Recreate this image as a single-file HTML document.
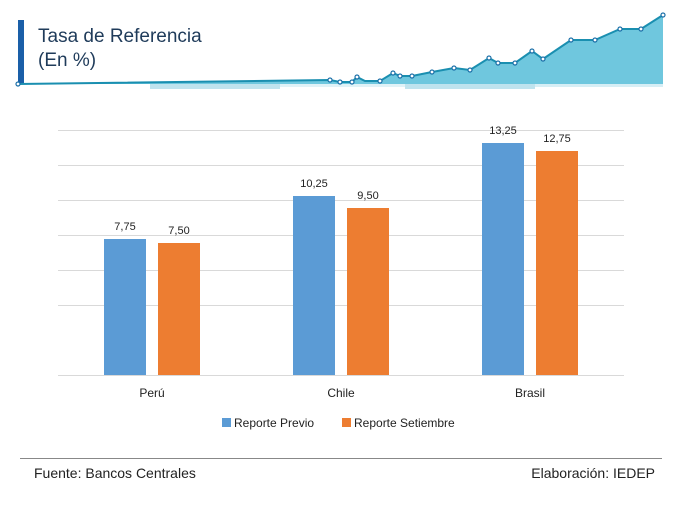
<!DOCTYPE html><html><head><style>body{margin:0;width:680px;height:502px;background:#fff;overflow:hidden;font-family:"Liberation Sans",sans-serif}</style></head><body>
<svg width="680" height="502" xmlns="http://www.w3.org/2000/svg" font-family="Liberation Sans, sans-serif">
<rect x="18" y="20" width="6" height="64" fill="#1a5fa8"/>
<text x="38" y="42" font-size="19" fill="#1f3b5a">Tasa de Referencia</text>
<text x="38" y="66" font-size="19" fill="#1f3b5a">(En %)</text>
<rect x="150" y="84" width="130" height="5" fill="#bfe3ee"/><rect x="405" y="84" width="130" height="5" fill="#bfe3ee"/><rect x="280" y="84" width="125" height="3" fill="#e0f2f7"/><rect x="535" y="84" width="128" height="3" fill="#d6eef5"/>
<polygon points="18,84 330,80 340,82 352,82 357,77 365,81 380,81 393,73 400,76 412,76 432,72 454,68 470,70 489,58 498,63 515,63 532,51 543,59 571,40 595,40 620,29 641,29 663,15 663,84" fill="#3fb4d3" opacity="0.75"/>
<polyline points="18,84 330,80 340,82 352,82 357,77 365,81 380,81 393,73 400,76 412,76 432,72 454,68 470,70 489,58 498,63 515,63 532,51 543,59 571,40 595,40 620,29 641,29 663,15" fill="none" stroke="#1a8fb0" stroke-width="2"/>
<g fill="#fff" stroke="#1a6fa8" stroke-width="1.2"><circle cx="18" cy="84" r="2"/><circle cx="330" cy="80" r="2"/><circle cx="340" cy="82" r="2"/><circle cx="352" cy="82" r="2"/><circle cx="357" cy="77" r="2"/><circle cx="380" cy="81" r="2"/><circle cx="393" cy="73" r="2"/><circle cx="400" cy="76" r="2"/><circle cx="412" cy="76" r="2"/><circle cx="432" cy="72" r="2"/><circle cx="454" cy="68" r="2"/><circle cx="470" cy="70" r="2"/><circle cx="489" cy="58" r="2"/><circle cx="498" cy="63" r="2"/><circle cx="515" cy="63" r="2"/><circle cx="532" cy="51" r="2"/><circle cx="543" cy="59" r="2"/><circle cx="571" cy="40" r="2"/><circle cx="595" cy="40" r="2"/><circle cx="620" cy="29" r="2"/><circle cx="641" cy="29" r="2"/><circle cx="663" cy="15" r="2"/></g>
<g stroke="#d9d9d9" stroke-width="1"><line x1="58" x2="624" y1="130.5" y2="130.5"/><line x1="58" x2="624" y1="165.5" y2="165.5"/><line x1="58" x2="624" y1="200.5" y2="200.5"/><line x1="58" x2="624" y1="235.5" y2="235.5"/><line x1="58" x2="624" y1="270.5" y2="270.5"/><line x1="58" x2="624" y1="305.5" y2="305.5"/><line x1="58" x2="624" y1="375.5" y2="375.5"/></g>
<rect x="104" y="239" width="42" height="136" fill="#5b9bd5"/><rect x="158" y="243" width="42" height="132" fill="#ed7d31"/>
<rect x="293" y="196" width="42" height="179" fill="#5b9bd5"/><rect x="347" y="208" width="42" height="167" fill="#ed7d31"/>
<rect x="482" y="143" width="42" height="232" fill="#5b9bd5"/><rect x="536" y="151" width="42" height="224" fill="#ed7d31"/>
<g font-size="11" fill="#222" text-anchor="middle"><text x="125" y="230">7,75</text><text x="179" y="234">7,50</text><text x="314" y="187">10,25</text><text x="368" y="199">9,50</text><text x="503" y="134">13,25</text><text x="557" y="142">12,75</text>
<text x="152" y="397" font-size="12">Perú</text><text x="341" y="397" font-size="12">Chile</text><text x="530" y="397" font-size="12">Brasil</text></g>
<rect x="222" y="418" width="9" height="9" fill="#5b9bd5"/><text x="234" y="427" font-size="12" fill="#222">Reporte Previo</text>
<rect x="342" y="418" width="9" height="9" fill="#ed7d31"/><text x="354" y="427" font-size="12" fill="#222">Reporte Setiembre</text>
<line x1="20" x2="662" y1="458.5" y2="458.5" stroke="#888"/>
<text x="34" y="478" font-size="14" fill="#222">Fuente: Bancos Centrales</text>
<text x="655" y="478" font-size="14" fill="#222" text-anchor="end">Elaboración: IEDEP</text>
</svg></body></html>
